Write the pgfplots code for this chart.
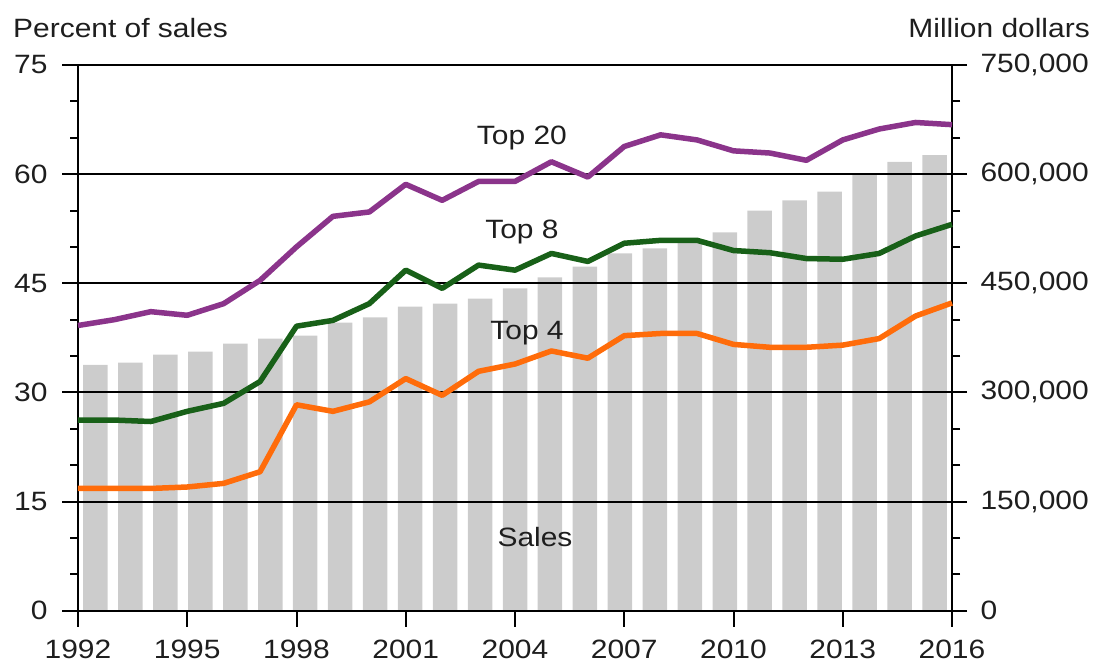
\documentclass[border=0pt]{standalone}
\usepackage{fontspec}
\setmainfont[FakeStretch=1.13]{Liberation Sans}
\usepackage{pgfplots}
\pgfplotsset{compat=1.18}
\definecolor{barc}{RGB}{204,204,204}
\definecolor{t20}{RGB}{139,52,139}
\definecolor{t8}{RGB}{24,96,24}
\definecolor{t4}{RGB}{255,108,10}
\definecolor{txt}{RGB}{30,30,30}
\newcommand{\bigf}{\fontsize{26.5}{30}\selectfont}
\begin{document}
\begin{tikzpicture}
\useasboundingbox (-78pt,-55.3pt) rectangle (1019pt,610.7pt);
% Sales bars, right axis
\begin{axis}[at={(0pt,0pt)}, anchor=south west, scale only axis,
  width=874pt, height=545.7pt,
  xmin=-0.5, xmax=24.5, ymin=0, ymax=750000,
  axis x line=none, axis y line*=right,
  scaled y ticks=false,
  ytick={0,150000,300000,450000,600000,750000},
  yticklabels={0,{150,000},{300,000},{450,000},{600,000},{750,000}},
  minor y tick num=2,
  tick align=outside, major tick length=15pt, minor tick length=8pt,
  every tick/.style={black, line width=2pt},
  axis line style={black, line width=2.2pt},
  ticklabel style={font=\bigf, text=txt},
  yticklabel style={xshift=10pt},
  /pgf/number format/assume math mode=true,
]
\addplot[ybar, bar width=24.5pt, fill=barc, draw=none] coordinates {
(0,338000) (1,341000) (2,352000) (3,356000) (4,367000) (5,374000)
(6,378000) (7,396000) (8,403000) (9,418000) (10,422000) (11,429000)
(12,443000) (13,458000) (14,473000) (15,491000) (16,498000) (17,506000)
(18,520000) (19,550000) (20,564000) (21,576000) (22,599000) (23,617000)
(24,626000)};
\end{axis}
% Percent lines, left axis
\begin{axis}[at={(0pt,0pt)}, anchor=south west, scale only axis,
  width=874pt, height=545.7pt,
  xmin=1992, xmax=2016, ymin=0, ymax=75,
  axis x line*=bottom, axis y line*=left,
  xtick={1992,1995,1998,2001,2004,2007,2010,2013,2016},
  xticklabels={1992,1995,1998,2001,2004,2007,2010,2013,2016},
  ytick={0,15,30,45,60,75},
  yticklabels={0,15,30,45,60,75},
  minor y tick num=2,
  ymajorgrids, major grid style={black, line width=2pt},
  tick align=outside, major tick length=16pt, minor tick length=8pt,
  every tick/.style={black, line width=2pt},
  axis line style={black, line width=2.2pt},
  ticklabel style={font=\bigf, text=txt},
  yticklabel style={xshift=-11pt},
  xticklabel style={yshift=-10pt},
  clip=false,
]
\addplot[t20, line width=5.5pt, line join=round] coordinates {
(1992,39.2) (1993,40.0) (1994,41.1) (1995,40.6) (1996,42.2) (1997,45.4)
(1998,50.0) (1999,54.2) (2000,54.8) (2001,58.6) (2002,56.4) (2003,59.0)
(2004,59.0) (2005,61.7) (2006,59.6) (2007,63.8) (2008,65.4) (2009,64.7)
(2010,63.2) (2011,62.9) (2012,61.9) (2013,64.7) (2014,66.2) (2015,67.1)
(2016,66.8)};
\addplot[t8, line width=5.5pt, line join=round] coordinates {
(1992,26.2) (1993,26.2) (1994,26.0) (1995,27.4) (1996,28.5) (1997,31.5)
(1998,39.1) (1999,39.9) (2000,42.2) (2001,46.8) (2002,44.3) (2003,47.5)
(2004,46.8) (2005,49.1) (2006,48.0) (2007,50.5) (2008,50.9) (2009,50.9)
(2010,49.5) (2011,49.2) (2012,48.4) (2013,48.3) (2014,49.1) (2015,51.5)
(2016,53.1)};
\addplot[t4, line width=5.5pt, line join=round] coordinates {
(1992,16.8) (1993,16.8) (1994,16.8) (1995,17.0) (1996,17.5) (1997,19.1)
(1998,28.3) (1999,27.4) (2000,28.7) (2001,31.9) (2002,29.6) (2003,32.9)
(2004,33.9) (2005,35.7) (2006,34.7) (2007,37.8) (2008,38.1) (2009,38.1)
(2010,36.6) (2011,36.2) (2012,36.2) (2013,36.5) (2014,37.4) (2015,40.5)
(2016,42.3)};
\node[font=\bigf, text=txt] at (axis cs:2004.19,65.0) {Top 20};
\node[font=\bigf, text=txt] at (axis cs:2004.19,52.0) {Top 8};
\node[font=\bigf, text=txt] at (axis cs:2004.33,38.2) {Top 4};
\node[font=\bigf, text=txt] at (axis cs:2004.55,10.1) {Sales};
\end{axis}
\node[anchor=west, inner sep=0pt, font=\bigf, text=txt] at (-65pt,582.7pt) {Percent of sales};
\node[anchor=east, inner sep=0pt, font=\bigf, text=txt] at (1012pt,582.7pt) {Million dollars};
\end{tikzpicture}
\end{document}
